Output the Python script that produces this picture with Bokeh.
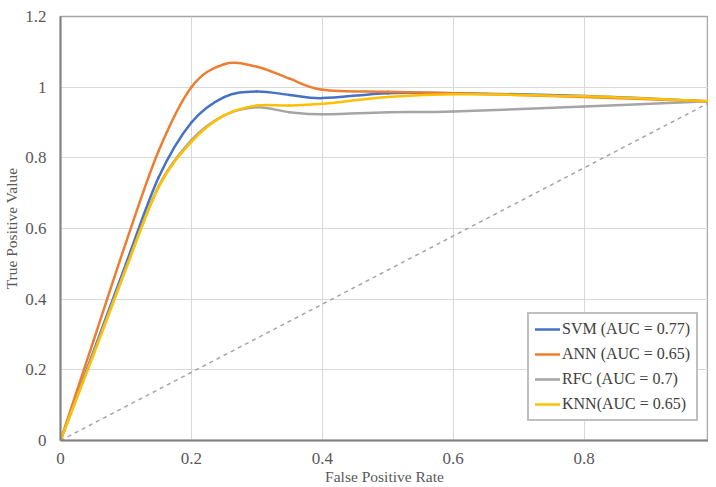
import numpy as np
from bokeh.plotting import figure
from bokeh.models import Legend, LegendItem, FixedTicker, Range1d
from bokeh.embed import file_html
from bokeh.resources import INLINE

# ---- data ----
fpr = [0, 0.05, 0.1, 0.15, 0.2, 0.25, 0.3, 0.35, 0.4, 0.5, 0.6, 0.8, 0.99]
svm = [0, 0.25, 0.50, 0.745, 0.90, 0.972, 0.988, 0.978, 0.969, 0.983, 0.983, 0.975, 0.96]
ann = [0, 0.28, 0.56, 0.82, 1.00, 1.065, 1.058, 1.024, 0.993, 0.987, 0.983, 0.972, 0.96]
rfc = [0, 0.245, 0.49, 0.72, 0.85, 0.92, 0.943, 0.929, 0.923, 0.929, 0.931, 0.945, 0.96]
knn = [0, 0.24, 0.485, 0.717, 0.845, 0.92, 0.948, 0.948, 0.953, 0.972, 0.98, 0.974, 0.96]
diag_x = [0, 0.99]
diag_y = [0, 0.955]

series_names = ["SVM (AUC = 0.77)", "ANN (AUC = 0.65)", "RFC (AUC = 0.7)", "KNN(AUC = 0.65)"]
series_colors = ["#4472C4", "#ED7D31", "#A5A5A5", "#FFC000"]

x_ticks = [0, 0.2, 0.4, 0.6, 0.8]
x_tick_labels = ["0", "0.2", "0.4", "0.6", "0.8"]
y_ticks = [0, 0.2, 0.4, 0.6, 0.8, 1.0, 1.2]
y_tick_labels = ["0", "0.2", "0.4", "0.6", "0.8", "1", "1.2"]

FONT = "Liberation Serif"
TXT = "#595959"

p = figure(width=708, height=487, output_backend="svg", toolbar_location=None,
           x_range=Range1d(0, 0.99), y_range=Range1d(0, 1.2),
           min_border_left=54, min_border_right=0, min_border_top=16, min_border_bottom=20)
p.background_fill_color = "white"
p.border_fill_color = "white"
p.outline_line_color = "#A6A6A6"
p.outline_line_width = 1.5

p.xaxis.ticker = FixedTicker(ticks=x_ticks)
p.yaxis.ticker = FixedTicker(ticks=y_ticks)
p.xaxis.major_label_overrides = {t: l for t, l in zip(x_ticks, x_tick_labels)}
p.yaxis.major_label_overrides = {t: l for t, l in zip(y_ticks, y_tick_labels)}
for ax in (p.xaxis, p.yaxis):
    ax.major_tick_line_color = None
    ax.minor_tick_line_color = None
    ax.axis_line_color = "#808080"
    ax.axis_line_width = 2
    ax.major_label_text_font = FONT
    ax.major_label_text_font_size = "17px"
    ax.major_label_text_color = TXT
    ax.axis_label_text_font = FONT
    ax.axis_label_text_font_size = "15.5px"
    ax.axis_label_text_font_style = "normal"
    ax.axis_label_text_color = TXT
p.xaxis.axis_label = "False Positive Rate"
p.yaxis.axis_label = "True Positive Value"
p.xaxis.major_label_standoff = 6
p.yaxis.major_label_standoff = 8
p.xaxis.axis_label_standoff = 1
p.yaxis.axis_label_standoff = 2

p.xgrid.grid_line_color = "#D9D9D9"
p.ygrid.grid_line_color = "#D9D9D9"
p.xgrid.grid_line_width = 1
p.ygrid.grid_line_width = 1

p.line(diag_x, diag_y, line_color="#A5A5A5", line_width=1.5, line_dash="4 4")


def smooth_segments(xs, ys):
    x = np.asarray(xs, float)
    y = np.asarray(ys, float)
    xp = np.concatenate([[x[0]], x, [x[-1]]])
    yp = np.concatenate([[y[0]], y, [y[-1]]])
    n = len(x) - 1
    i = np.arange(n) + 1
    cx0 = xp[i] + (xp[i + 1] - xp[i - 1]) / 6.0
    cy0 = yp[i] + (yp[i + 1] - yp[i - 1]) / 6.0
    cx1 = xp[i + 1] - (xp[i + 2] - xp[i]) / 6.0
    cy1 = yp[i + 1] - (yp[i + 2] - yp[i]) / 6.0
    return dict(x0=x[:-1], y0=y[:-1], x1=x[1:], y1=y[1:],
                cx0=cx0, cy0=cy0, cx1=cx1, cy1=cy1)


items = []
for name, col, vals in zip(series_names, series_colors, [svm, ann, rfc, knn]):
    s = smooth_segments(fpr, vals)
    r = p.bezier(x0=s["x0"], y0=s["y0"], x1=s["x1"], y1=s["y1"],
                 cx0=s["cx0"], cy0=s["cy0"], cx1=s["cx1"], cy1=s["cy1"],
                 line_color=col, line_width=2.5, line_cap="round")
    items.append(LegendItem(label=name, renderers=[r]))

legend = Legend(items=items, location=(467, 19))
legend.border_line_color = "#808080"
legend.border_line_width = 2
legend.background_fill_color = "white"
legend.background_fill_alpha = 1
legend.padding = 6
legend.spacing = 7
legend.label_height = 18
legend.glyph_height = 18
legend.glyph_width = 25
legend.label_standoff = 2
legend.margin = 0
legend.label_text_font = FONT
legend.label_text_font_size = "16px"
legend.label_text_color = "#404040"
p.add_layout(legend, "center")

open("out.html", "w").write(file_html(p, INLINE))
